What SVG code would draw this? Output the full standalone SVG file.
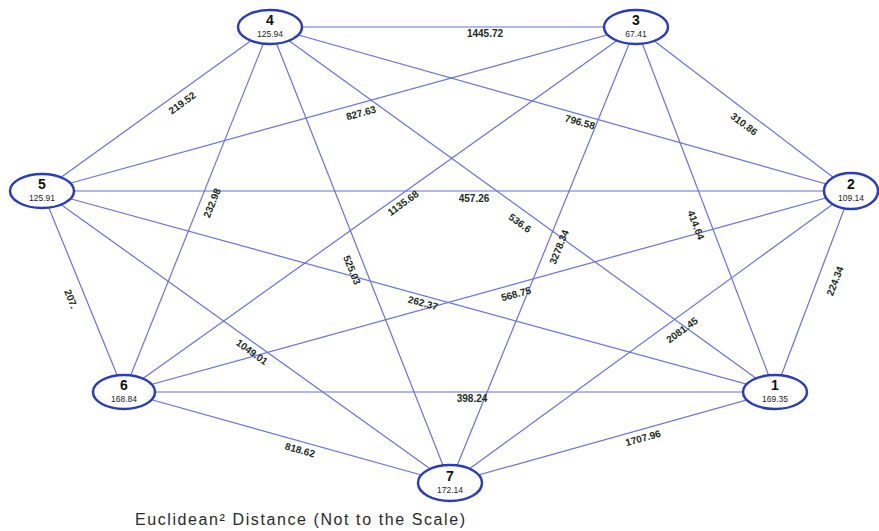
<svg xmlns="http://www.w3.org/2000/svg" width="879" height="531" viewBox="0 0 879 531">
<style>
.e{stroke:#6873da;stroke-width:1.2;fill:none}
.n{fill:#fff;stroke:#2b3cb8;stroke-width:2.5}
.num{font-family:"Liberation Sans",Arial,sans-serif;font-weight:bold;font-size:14px;fill:#111;text-anchor:middle}
.val{font-family:"Liberation Sans",Arial,sans-serif;font-size:8.5px;fill:#222;text-anchor:middle}
.lb{font-family:"Liberation Sans",Arial,sans-serif;font-weight:bold;font-size:10px;fill:#1b2b1b;text-anchor:middle;dominant-baseline:central}
.t{font-family:"Liberation Sans",Arial,sans-serif;font-size:16px;fill:#2a2a2a}
</style>
<rect width="879" height="531" fill="#fff"/>
<g id="connectors">
<line class="e" x1="270" y1="27" x2="636" y2="27"/>
<line class="e" x1="270" y1="27" x2="42" y2="191"/>
<line class="e" x1="270" y1="27" x2="851" y2="191"/>
<line class="e" x1="270" y1="27" x2="124" y2="392"/>
<line class="e" x1="270" y1="27" x2="775" y2="392"/>
<line class="e" x1="270" y1="27" x2="450" y2="483"/>
<line class="e" x1="636" y1="27" x2="42" y2="191"/>
<line class="e" x1="636" y1="27" x2="851" y2="191"/>
<line class="e" x1="636" y1="27" x2="124" y2="392"/>
<line class="e" x1="636" y1="27" x2="775" y2="392"/>
<line class="e" x1="636" y1="27" x2="450" y2="483"/>
<line class="e" x1="42" y1="191" x2="851" y2="191"/>
<line class="e" x1="42" y1="191" x2="124" y2="392"/>
<line class="e" x1="42" y1="191" x2="775" y2="392"/>
<line class="e" x1="42" y1="191" x2="450" y2="483"/>
<line class="e" x1="851" y1="191" x2="124" y2="392"/>
<line class="e" x1="851" y1="191" x2="775" y2="392"/>
<line class="e" x1="851" y1="191" x2="450" y2="483"/>
<line class="e" x1="124" y1="392" x2="775" y2="392"/>
<line class="e" x1="124" y1="392" x2="450" y2="483"/>
<line class="e" x1="775" y1="392" x2="450" y2="483"/>
<text class="lb" x="485" y="33">1445.72</text>
<text class="lb" transform="translate(182,103) rotate(-36)">219.52</text>
<text class="lb" transform="translate(361,113) rotate(-15)">827.63</text>
<text class="lb" transform="translate(580,122) rotate(16)">796.58</text>
<text class="lb" transform="translate(744,124) rotate(37)">310.86</text>
<text class="lb" x="474" y="198">457.26</text>
<text class="lb" transform="translate(212,203) rotate(-68)">232.98</text>
<text class="lb" transform="translate(403,203) rotate(-36)">1135.68</text>
<text class="lb" transform="translate(520,223) rotate(36)">536.6</text>
<text class="lb" transform="translate(559,247) rotate(-68)">3278.34</text>
<text class="lb" transform="translate(696,225) rotate(69)">414.64</text>
<text class="lb" transform="translate(835,281) rotate(-69)">224.34</text>
<text class="lb" transform="translate(352,270) rotate(68)">525.03</text>
<text class="lb" transform="translate(423,303) rotate(15)">262.37</text>
<text class="lb" transform="translate(516,294) rotate(-15)">568.75</text>
<text class="lb" transform="translate(71,299) rotate(68)">207.</text>
<text class="lb" transform="translate(252,352) rotate(36)">1049.01</text>
<text class="lb" transform="translate(682,330) rotate(-36)">2081.45</text>
<text class="lb" x="472" y="398">398.24</text>
<text class="lb" transform="translate(300,450) rotate(16)">818.62</text>
<text class="lb" transform="translate(643,438) rotate(-16)">1707.96</text>
</g>
<g id="node1"><ellipse class="n" cx="775" cy="392" rx="32" ry="17"/><text class="num" x="775" y="390">1</text><text class="val" x="775" y="402">169.35</text></g>
<g id="node2"><ellipse class="n" cx="851" cy="191" rx="27" ry="18"/><text class="num" x="851" y="189">2</text><text class="val" x="851" y="201">109.14</text></g>
<g id="node3"><ellipse class="n" cx="636" cy="27" rx="32" ry="17"/><text class="num" x="636" y="25">3</text><text class="val" x="636" y="37">67.41</text></g>
<g id="node4"><ellipse class="n" cx="270" cy="27" rx="32" ry="17"/><text class="num" x="270" y="25">4</text><text class="val" x="270" y="37">125.94</text></g>
<g id="node5"><ellipse class="n" cx="42" cy="191" rx="32" ry="17"/><text class="num" x="42" y="189">5</text><text class="val" x="42" y="201">125.91</text></g>
<g id="node6"><ellipse class="n" cx="124" cy="392" rx="31" ry="17"/><text class="num" x="124" y="390">6</text><text class="val" x="124" y="402">168.84</text></g>
<g id="node7"><ellipse class="n" cx="450" cy="483" rx="32" ry="18"/><text class="num" x="450" y="481">7</text><text class="val" x="450" y="493">172.14</text></g>
<text class="t" x="135" y="525" textLength="330" lengthAdjust="spacing">Euclidean² Distance (Not to the Scale)</text>
</svg>
